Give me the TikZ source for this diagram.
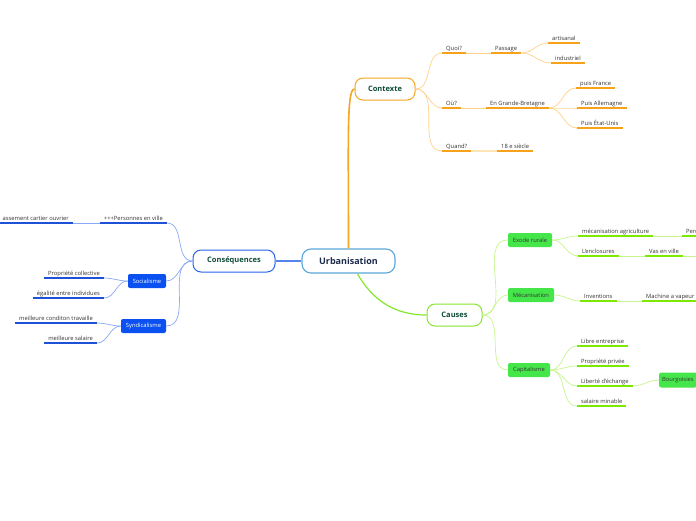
\documentclass[tikz,border=0pt]{standalone}
\usepackage{fontspec}
\setmainfont{Open Sans}
\definecolor{txt}{HTML}{333333}
\definecolor{oMain}{HTML}{F5A623}
\definecolor{oUl}{HTML}{F7A21B}
\definecolor{oCon}{HTML}{FFD28A}
\definecolor{oCon2}{HTML}{FFE4B8}
\definecolor{gMain}{HTML}{86E62E}
\definecolor{gUl}{HTML}{7DE800}
\definecolor{gCon}{HTML}{C8F590}
\definecolor{gBox}{HTML}{45E64A}
\definecolor{bMain}{HTML}{2A63E8}
\definecolor{bLine}{HTML}{5584EA}
\definecolor{bUl}{HTML}{1F50D8}
\definecolor{bCon}{HTML}{8AA8F5}
\definecolor{bBox}{HTML}{0B50F0}
\definecolor{rootB}{HTML}{5AA7DB}
\definecolor{rootT}{HTML}{1C2B4B}
\definecolor{mainT}{HTML}{0F4C3A}
\begin{document}
\begin{tikzpicture}[x=1pt,y=-1pt,
  every node/.style={font=\fontsize{5.8}{6.5}\selectfont, text=txt},
  leaf/.style={inner xsep=4pt, inner ysep=1.3pt, text height=4.4pt, text depth=1.3pt,
    append after command={(\tikzlastnode.south west) edge[line width=1.5pt,draw=#1] (\tikzlastnode.south east)}},
  rootbox/.style={draw=rootB, line width=1.1pt, fill=white, rounded corners=9pt,
    minimum width=93pt, minimum height=24pt, text=rootT, font=\fontsize{9}{10}\selectfont\bfseries},
  mainbox/.style={draw=#1, line width=1pt, fill=white, rounded corners=8pt,
    minimum height=22pt, text=mainT, font=\fontsize{7.5}{8}\selectfont\bfseries},
  subbox/.style={fill=#1, rounded corners=2pt, minimum height=14pt, inner xsep=3pt, inner ysep=1pt},
  conO/.style={draw=oCon, line width=0.7pt},
  conG/.style={draw=gCon, line width=0.7pt},
  conB/.style={draw=bCon, line width=0.7pt}
]
\useasboundingbox (0,0) rectangle (696,520);
\fill[white] (0,0) rectangle (696,520);
\clip (0,0) rectangle (696,520);

% root and main branches
\node[rootbox] (urb) at (348.5,261) {Urbanisation};
\node[mainbox=oMain, minimum width=60pt] (ctx) at (385,89) {Contexte};
\node[mainbox=gMain, minimum width=55pt] (causes) at (454.5,315) {Causes};
\node[mainbox=bMain, minimum width=82pt] (cons) at (234,261) {Conséquences};

\draw[draw=oMain, line width=1.6pt] (urb.north) .. controls +(0,-110) and +(-8,0) .. (ctx.west);
\draw[draw=gMain, line width=1.2pt] (urb.305) to[out=-60,in=180] (causes.west);
\draw[draw=bLine, line width=1.2pt] (urb.west) -- (cons.east);

% Contexte
\node[leaf=oUl, anchor=south west] (quoi) at (442,53) {Quoi?};
\node[leaf=oUl, anchor=south west] (passage) at (491,53) {Passage};
\node[leaf=oUl, anchor=south west] (artisanal) at (548,43) {artisanal};
\node[leaf=oUl, anchor=south west] (industriel) at (551,63) {industriel};
\node[leaf=oUl, anchor=south west] (ou) at (442,108) {Où?};
\node[leaf=oUl, anchor=south west] (gb) at (486,108) {En Grande-Bretagne};
\node[leaf=oUl, anchor=south west] (france) at (576,88) {puis France};
\node[leaf=oUl, anchor=south west] (allemagne) at (577,108) {Puis Allemagne};
\node[leaf=oUl, anchor=south west] (etats) at (577,128) {Puis État-Unis};
\node[leaf=oUl, anchor=south west] (quand) at (442,151) {Quand?};
\node[leaf=oUl, anchor=south west] (siecle) at (497,151) {18 e siècle};

\draw[conO] (ctx.east) to[out=0,in=180] (quoi.south west);
\draw[conO] (ctx.east) to[out=0,in=180] (ou.south west);
\draw[conO] (ctx.east) to[out=0,in=180] (quand.south west);
\draw[conO] (quoi.south east) -- (passage.south west);
\draw[conO] (passage.south east) to[out=0,in=180] (artisanal.south west);
\draw[conO] (passage.south east) to[out=0,in=180] (industriel.south west);
\draw[conO] (ou.south east) -- (gb.south west);
\draw[conO] (gb.south east) to[out=0,in=180] (france.south west);
\draw[conO] (gb.south east) to[out=0,in=180] (allemagne.south west);
\draw[conO] (gb.south east) to[out=0,in=180] (etats.south west);
\draw[draw=oCon2, line width=1.2pt] (quand.south east) -- (siecle.south west);

% Causes
\node[subbox=gBox, minimum width=44pt] (exode) at (530,240) {Exode rurale};
\node[subbox=gBox, minimum width=46pt] (meca) at (531,295) {Mécanisation};
\node[subbox=gBox, minimum width=42pt] (capital) at (529,370) {Capitalisme};
\node[subbox=gBox, anchor=west, minimum height=15pt] (bourg) at (659,380) {Bourgoisies};

\node[leaf=gUl, anchor=south west] (agri) at (578,236) {mécanisation agriculture};
\node[leaf=gUl, anchor=south west, text width=40pt] (perc) at (682,236) {Perc};
\node[leaf=gUl, anchor=south west] (enclos) at (578,256) {L'enclosures};
\node[leaf=gUl, anchor=south west] (vas) at (645,256) {Vas en ville};
\coordinate (vasnext) at (730,256);
\node[leaf=gUl, anchor=south west] (inventions) at (580,301) {Inventions};
\node[leaf=gUl, anchor=south west] (machine) at (642,301) {Machine a vapeur};
\node[leaf=gUl, anchor=south west] (libre) at (577,346) {Libre entreprise};
\node[leaf=gUl, anchor=south west] (propriete) at (577,366) {Propriété privée};
\node[leaf=gUl, anchor=south west] (liberte) at (577,386) {Liberté d'échange};
\node[leaf=gUl, anchor=south west] (salaire) at (577,406) {salaire minable};

\draw[conG] (causes.east) to[out=0,in=180] (exode.west);
\draw[conG] (causes.east) to[out=0,in=180] (meca.west);
\draw[conG] (causes.east) to[out=0,in=180] (capital.west);
\draw[conG] (exode.east) to[out=0,in=180] (agri.south west);
\draw[conG] (exode.east) to[out=0,in=180] (enclos.south west);
\draw[conG] (agri.south east) -- (perc.south west);
\draw[conG] (enclos.south east) -- (vas.south west);
\draw[conG] (vas.south east) -- (vasnext);
\draw[conG] (meca.east) to[out=0,in=180] (inventions.south west);
\draw[conG] (inventions.south east) -- (machine.south west);
\draw[conG] (capital.east) to[out=0,in=180] (libre.south west);
\draw[conG] (capital.east) to[out=0,in=180] (propriete.south west);
\draw[conG] (capital.east) to[out=0,in=180] (liberte.south west);
\draw[conG] (capital.east) to[out=0,in=180] (salaire.south west);
\draw[conG] (liberte.south east) to[out=0,in=180] (bourg.west);

% Consequences
\node[subbox=bBox, minimum width=38pt, text=white] (social) at (147,281) {Socialisme};
\node[subbox=bBox, minimum width=45pt, text=white] (syndic) at (143.5,326) {Syndicalisme};

\node[leaf=bUl, anchor=south east] (personnes) at (167,223) {+++Personnes en ville};
\node[leaf=bUl, anchor=south east] (classement) at (73,223) {assement cartier ouvrier};
\node[leaf=bUl, anchor=south east] (collective) at (104,278) {Propriété collective};
\node[leaf=bUl, anchor=south east] (egalite) at (104,298) {égalité entre individues};
\node[leaf=bUl, anchor=south east] (condition) at (97,323) {meilleure conditon travaille};
\node[leaf=bUl, anchor=south east] (msalaire) at (97,343) {meilleure salaire};

\draw[conB] (cons.west) to[out=180,in=0] (personnes.south east);
\draw[conB] (cons.west) to[out=180,in=0] (social.east);
\draw[conB] (cons.west) to[out=180,in=0] (syndic.east);
\draw[conB] (personnes.south west) -- (classement.south east);
\draw[conB] (social.west) to[out=180,in=0] (collective.south east);
\draw[conB] (social.west) to[out=180,in=0] (egalite.south east);
\draw[conB] (syndic.west) to[out=180,in=0] (condition.south east);
\draw[conB] (syndic.west) to[out=180,in=0] (msalaire.south east);
\end{tikzpicture}
\end{document}
